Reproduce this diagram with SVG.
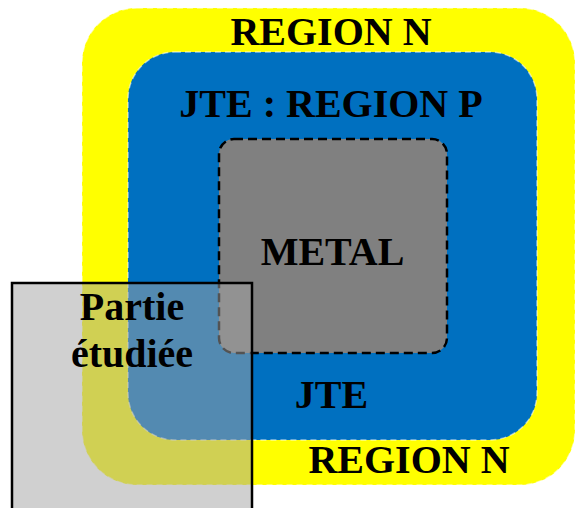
<svg xmlns="http://www.w3.org/2000/svg" width="576" height="508" viewBox="0 0 576 508">
<style>
  .lbl { font-family: "Liberation Serif", "Times New Roman", serif; font-weight: bold; font-size: 40px; fill: #000; }
  .edge { stroke: #ffffff; stroke-opacity: 0.55; stroke-width: 1.5; stroke-dasharray: 6 4; }
</style>
<rect width="576" height="508" fill="#ffffff"/>
<g id="region-n">
  <rect x="82" y="8" width="493" height="477" rx="55" ry="55" fill="#ffff00" class="edge"/>
  <text class="lbl" x="331" y="45" text-anchor="middle">REGION N</text>
  <text class="lbl" x="409" y="473" text-anchor="middle">REGION N</text>
</g>
<g id="jte">
  <rect x="128" y="52" width="409" height="388" rx="47" ry="47" fill="#0070c0" class="edge"/>
  <text class="lbl" x="331" y="117" text-anchor="middle">JTE : REGION P</text>
  <text class="lbl" x="331.5" y="408" text-anchor="middle">JTE</text>
</g>
<g id="metal">
  <rect x="219" y="139" width="228" height="214" rx="15" ry="15" fill="#808080" stroke="#000" stroke-width="2.5" stroke-dasharray="9 5"/>
  <text class="lbl" x="332.5" y="265" text-anchor="middle">METAL</text>
</g>
<g id="partie-etudiee">
  <rect x="12" y="283" width="240" height="240" fill="#a3a3a3" fill-opacity="0.51" stroke="#000" stroke-width="2.5"/>
  <text class="lbl" x="132" y="320" text-anchor="middle">Partie</text>
  <text class="lbl" x="132" y="367" text-anchor="middle">étudiée</text>
</g>
<g id="connectors"/>
</svg>
